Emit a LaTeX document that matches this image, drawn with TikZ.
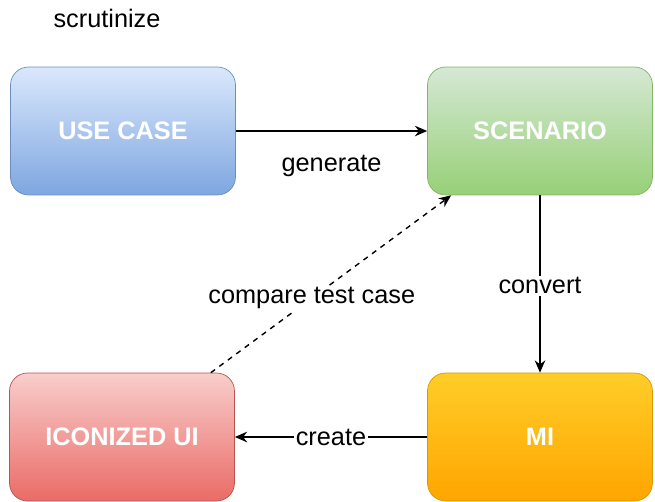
\documentclass[tikz,border=0pt]{standalone}
\usepackage{fontspec}
\setmainfont{Liberation Sans}
\usepackage{tikz}
\usetikzlibrary{arrows.meta,positioning}
\definecolor{blueTop}{HTML}{DAE8FC}
\definecolor{blueBot}{HTML}{7EA6E0}
\definecolor{blueLine}{HTML}{6C8EBF}
\definecolor{greenTop}{HTML}{D5E8D4}
\definecolor{greenBot}{HTML}{97D077}
\definecolor{greenLine}{HTML}{82B366}
\definecolor{redTop}{HTML}{F8CECC}
\definecolor{redBot}{HTML}{EA6B66}
\definecolor{redLine}{HTML}{B85450}
\definecolor{orangeTop}{HTML}{FFCD28}
\definecolor{orangeBot}{HTML}{FFA500}
\definecolor{orangeLine}{HTML}{D79B00}

\begin{document}
\begin{tikzpicture}[x=0.02cm, y=-0.02cm,
    every node/.style={font=\fontsize{14.4}{17}\selectfont},
    stagebox/.style={rounded corners=0.36cm, minimum width=4.5cm, minimum height=2.56cm,
        text=white, font=\fontsize{14.4}{17}\selectfont\bfseries},
    flow/.style={-{Stealth[length=7pt,width=6pt]}, thick},
    tag/.style={fill=white, inner sep=1pt}]
    \useasboundingbox (0,0) rectangle (655,501);

    % Stages
    \node[stagebox, draw=blueLine, top color=blueTop, bottom color=blueBot] (usecase) at (123,131) {USE CASE};
    \node[stagebox, draw=greenLine, top color=greenTop, bottom color=greenBot] (scenario) at (540,131) {SCENARIO};
    \node[stagebox, draw=orangeLine, top color=orangeTop, bottom color=orangeBot] (mi) at (540,437) {MI};
    \node[stagebox, draw=redLine, top color=redTop, bottom color=redBot] (ui) at (122,437) {ICONIZED UI};

    % Title
    \node (title) at (107,18) {scrutinize};

    % Transitions
    \draw[flow] (usecase) -- node[midway, below=0.36cm] {generate} (scenario);
    \draw[flow] (scenario) -- node[tag, pos=0.51] {convert} (mi);
    \draw[flow] (mi) -- node[tag, midway] {create} (ui);
    \draw[flow, dashed] ([xshift=-0.48cm]ui.north east) -- node[tag, pos=0.42] {compare test case} ([xshift=0.48cm]scenario.south west);
\end{tikzpicture}
\end{document}
